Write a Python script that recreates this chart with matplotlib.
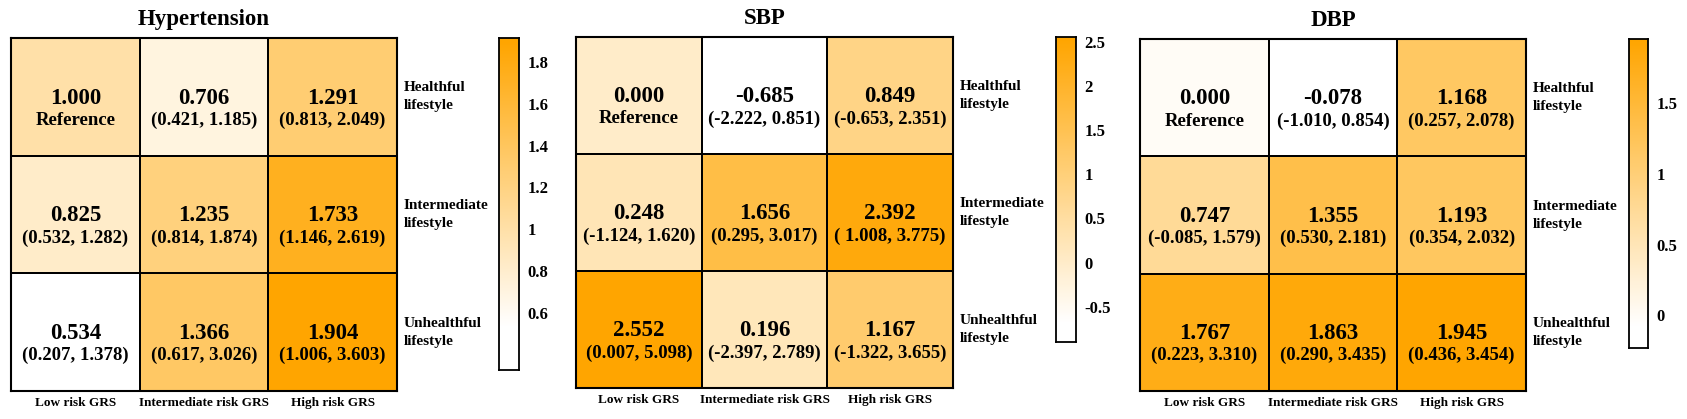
import numpy as np
import matplotlib
matplotlib.use('Agg')
import matplotlib.pyplot as plt
from matplotlib.colors import LinearSegmentedColormap, Normalize

plt.rcParams['font.family'] = ['Liberation Serif', 'DejaVu Serif']
plt.rcParams['font.weight'] = 'bold'

grs_labels = ['Low risk GRS', 'Intermediate risk GRS', 'High risk GRS']
lifestyle_labels = ['Healthful\nlifestyle', 'Intermediate\nlifestyle', 'Unhealthful\nlifestyle']

ht_est = [[1.000, 0.706, 1.291],
          [0.825, 1.235, 1.733],
          [0.534, 1.366, 1.904]]
ht_ci = [['Reference', '(0.421, 1.185)', '(0.813, 2.049)'],
         ['(0.532, 1.282)', '(0.814, 1.874)', '(1.146, 2.619)'],
         ['(0.207, 1.378)', '(0.617, 3.026)', '(1.006, 3.603)']]

sbp_est = [[0.000, -0.685, 0.849],
           [0.248, 1.656, 2.392],
           [2.552, 0.196, 1.167]]
sbp_ci = [['Reference', '(-2.222, 0.851)', '(-0.653, 2.351)'],
          ['(-1.124, 1.620)', '(0.295, 3.017)', '( 1.008, 3.775)'],
          ['(0.007, 5.098)', '(-2.397, 2.789)', '(-1.322, 3.655)']]

dbp_est = [[0.000, -0.078, 1.168],
           [0.747, 1.355, 1.193],
           [1.767, 1.863, 1.945]]
dbp_ci = [['Reference', '(-1.010, 0.854)', '(0.257, 2.078)'],
          ['(-0.085, 1.579)', '(0.530, 2.181)', '(0.354, 2.032)'],
          ['(0.223, 3.310)', '(0.290, 3.435)', '(0.436, 3.454)']]

# colourbar extents and ticks
ht_cb_range = [0.327, 1.915]
ht_cb_ticks = [0.6, 0.8, 1.0, 1.2, 1.4, 1.6, 1.8]
ht_cb_labels = ['0.6', '0.8', '1', '1.2', '1.4', '1.6', '1.8']
sbp_cb_range = [-0.90, 2.557]
sbp_cb_ticks = [-0.5, 0, 0.5, 1, 1.5, 2, 2.5]
sbp_cb_labels = ['-0.5', '0', '0.5', '1', '1.5', '2', '2.5']
dbp_cb_range = [-0.23, 1.95]
dbp_cb_ticks = [0, 0.5, 1, 1.5]
dbp_cb_labels = ['0', '0.5', '1', '1.5']

cmap = LinearSegmentedColormap.from_list('wo', ['#FFFFFF', '#FFA500'])

W, H = 1687, 419
fig = plt.figure(figsize=(W / 100, H / 100), dpi=100)


def px_axes(x0, y0, x1, y1):
    return fig.add_axes([x0 / W, 1 - y1 / H, (x1 - x0) / W, (y1 - y0) / H])


def panel(box, cbox, title, est, ci, cb_range, cb_ticks, cb_labels):
    est = np.array(est)
    norm = Normalize(est.min(), est.max())
    ax = px_axes(*box)
    ax.pcolormesh(est, cmap=cmap, norm=norm, edgecolors='black', linewidth=1.1)
    ax.set_xlim(0, 3)
    ax.set_ylim(3, 0)
    for s in ax.spines.values():
        s.set_linewidth(1.5)
    ax.set_xticks([0.5, 1.5, 2.5])
    ax.set_xticklabels(grs_labels, fontsize=9.5)
    ax.set_yticks([])
    ax.tick_params(axis='x', length=0, pad=4)
    for i in range(3):
        for j in range(3):
            ax.text(j + 0.5, i + 0.51, f'{est[i, j]:.3f}', ha='center', va='center',
                    fontsize=16.5, fontweight='bold')
            ax.text(j + 0.5, i + 0.70, ci[i][j], ha='center', va='center',
                    fontsize=13.5, fontweight='bold')
        ax.text(3.05, i + 0.5, lifestyle_labels[i], ha='left', va='center',
                fontsize=11, fontweight='bold', linespacing=1.5)
    ax.text(0.5, 1.052, title, transform=ax.transAxes, ha='center', va='center',
            fontsize=16.5, fontweight='bold')

    cax = px_axes(*cbox)
    grad = np.linspace(cb_range[0], cb_range[1], 300)
    cax.imshow(grad[:, None], aspect='auto', origin='lower', cmap=cmap, norm=norm,
               extent=[0, 1, cb_range[0], cb_range[1]])
    cax.set_xticks([])
    cax.yaxis.tick_right()
    cax.set_yticks(cb_ticks)
    cax.set_yticklabels(cb_labels, fontsize=12)
    cax.tick_params(axis='y', length=0, pad=6)
    for s in cax.spines.values():
        s.set_linewidth(1.3)


panel((11, 38, 397, 391), (499, 38, 519, 370), 'Hypertension',
      ht_est, ht_ci, ht_cb_range, ht_cb_ticks, ht_cb_labels)
panel((576, 37, 953, 388), (1056, 37, 1076, 342), 'SBP',
      sbp_est, sbp_ci, sbp_cb_range, sbp_cb_ticks, sbp_cb_labels)
panel((1140, 39, 1526, 391), (1629, 39, 1648, 348), 'DBP',
      dbp_est, dbp_ci, dbp_cb_range, dbp_cb_ticks, dbp_cb_labels)

fig.savefig('out.png', dpi=100)
